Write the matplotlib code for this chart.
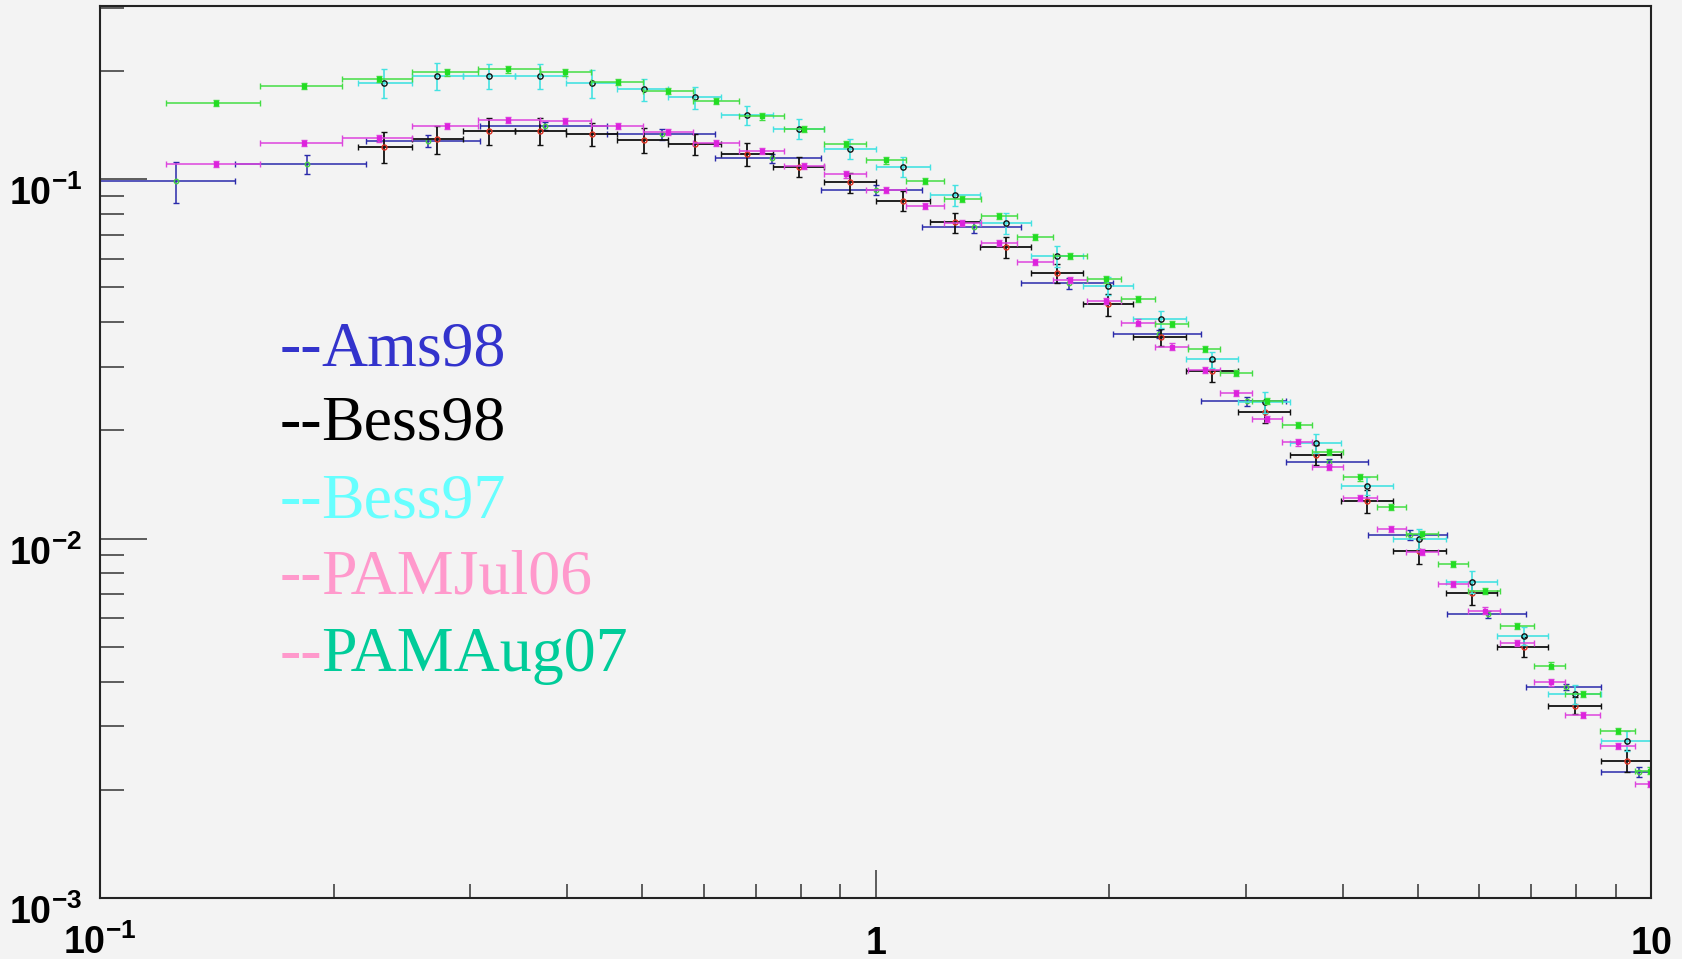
import numpy as np
import matplotlib
matplotlib.use("Agg")
import matplotlib.pyplot as plt
from matplotlib.ticker import FixedLocator, LogLocator, NullFormatter
from matplotlib.transforms import ScaledTranslation

# ---------------------------------------------------------------- data
# PAMELA energy bins (shared by both PAMELA periods)
pam_edges = [0.1218, 0.1609, 0.2049, 0.2526, 0.3068, 0.3687, 0.4299, 0.5007,
             0.5819, 0.6670, 0.7616, 0.8588, 0.9714, 1.094, 1.225, 1.367,
             1.520, 1.691, 1.874, 2.069, 2.291, 2.529, 2.777, 3.058, 3.342,
             3.654, 4.006, 4.423, 4.825, 5.311, 5.795, 6.378, 7.062, 7.736,
             8.582, 9.536, 10.56]
pam_x = [0.1412, 0.1830, 0.2288, 0.2798, 0.3355, 0.3975, 0.4658, 0.5402,
         0.6224, 0.7141, 0.8089, 0.9146, 1.031, 1.157, 1.291, 1.443, 1.604,
         1.780, 1.981, 2.180, 2.407, 2.657, 2.911, 3.191, 3.499, 3.839,
         4.210, 4.615, 5.056, 5.553, 6.101, 6.703, 7.421, 8.153, 9.045, 9.956]
pam_aug07 = [0.1624, 0.1811, 0.1897, 0.1981, 0.2019, 0.1981, 0.1858, 0.1757,
             0.1651, 0.1494, 0.1377, 0.1254, 0.1127, 0.0989, 0.0880, 0.0788,
             0.0691, 0.0611, 0.0526, 0.0465, 0.0396, 0.0337, 0.0289, 0.0241,
             0.0207, 0.0174, 0.0148, 0.01226, 0.01027, 0.00848, 0.00715,
             0.00571, 0.00443, 0.00369, 0.00291, 0.00226]
pam_aug07_err = [0.0032, 0.0036, 0.0038, 0.0040, 0.0040, 0.0040, 0.0037, 0.0035,
                 0.0033, 0.0030, 0.0028, 0.0025, 0.0023, 0.0020, 0.0018, 0.0016,
                 0.0014, 0.0012, 0.0011, 0.0009, 0.0008, 0.0007, 0.0006, 0.0005,
                 0.0004, 0.00035, 0.0003, 0.00025, 0.00021, 0.00017, 0.00014,
                 0.00011, 0.00009, 0.00007, 0.00006, 0.00005]
pam_jul06 = [0.1099, 0.1262, 0.1298, 0.1404, 0.1459, 0.1453, 0.1404, 0.1351,
             0.1262, 0.1196, 0.1087, 0.1031, 0.0932, 0.0841, 0.0753, 0.0665,
             0.0588, 0.0524, 0.0459, 0.0399, 0.0342, 0.0294, 0.0254, 0.0215,
             0.0185, 0.0158, 0.01297, 0.01065, 0.00916, 0.00747, 0.00630,
             0.00511, 0.00398, 0.00323, 0.00265, 0.00207]
pam_jul06_err = [0.0022, 0.0025, 0.0026, 0.0028, 0.0029, 0.0029, 0.0028, 0.0027,
                 0.0025, 0.0024, 0.0022, 0.0021, 0.0019, 0.0017, 0.0015, 0.0013,
                 0.0012, 0.0010, 0.0009, 0.0008, 0.0007, 0.0006, 0.0005, 0.0004,
                 0.00037, 0.00032, 0.00026, 0.00021, 0.00018, 0.00015, 0.00013,
                 0.00010, 0.00008, 0.00006, 0.00005, 0.00004]

# BESS energy bins (shared by 1997 and 1998 flights)
bess_edges = [0.2149, 0.2522, 0.2934, 0.3424, 0.3992, 0.4638, 0.5402, 0.6311,
              0.7363, 0.8568, 1.000, 1.173, 1.363, 1.586, 1.852, 2.148, 2.512,
              2.933, 3.416, 3.975, 4.636, 5.433, 6.327, 7.361, 8.600, 10.00]
bess_x = [0.2323, 0.2722, 0.3173, 0.3687, 0.4313, 0.5020, 0.5848, 0.6834,
          0.7963, 0.9265, 1.084, 1.265, 1.473, 1.714, 1.994, 2.332, 2.715,
          3.175, 3.694, 4.301, 5.014, 5.869, 6.841, 7.969, 9.299]
bess97 = [0.1850, 0.1938, 0.1938, 0.1938, 0.1850, 0.1776, 0.1688, 0.1507,
          0.1380, 0.1214, 0.1082, 0.0903, 0.0754, 0.0610, 0.0505, 0.0408,
          0.0315, 0.0240, 0.0184, 0.0140, 0.0100, 0.00758, 0.00537, 0.00369,
          0.00274]
bess97_err = [0.0170, 0.0167, 0.0155, 0.0155, 0.0166, 0.0128, 0.0118, 0.0092,
              0.0091, 0.0078, 0.0069, 0.0060, 0.0050, 0.0040, 0.0028, 0.0022,
              0.0016, 0.0016, 0.0011, 0.0008, 0.00066, 0.00052, 0.00032,
              0.00022, 0.00018]
bess98 = [0.1230, 0.1292, 0.1363, 0.1363, 0.1334, 0.1284, 0.1251, 0.1172,
          0.1082, 0.0979, 0.0870, 0.0758, 0.0648, 0.0547, 0.0448, 0.0363,
          0.0292, 0.0225, 0.0171, 0.0127, 0.00925, 0.00707, 0.00500, 0.00343,
          0.00241]
bess98_err = [0.0119, 0.0115, 0.0116, 0.0116, 0.0099, 0.0100, 0.0081, 0.0084,
              0.0069, 0.0062, 0.0056, 0.0049, 0.0044, 0.0033, 0.0032, 0.0020,
              0.0019, 0.0016, 0.0011, 0.00091, 0.00074, 0.00055, 0.00033,
              0.00019, 0.00017]

# AMS-01 (1998) energy bins
ams_edges = [0.098, 0.1495, 0.2203, 0.3092, 0.4502, 0.6205, 0.8492, 1.146,
             1.538, 2.024, 2.626, 3.376, 4.311, 5.454, 6.883, 8.608, 10.7]
ams_x = [0.1252, 0.1850, 0.2647, 0.3750, 0.5296, 0.7343, 1.001, 1.339, 1.776,
         2.320, 3.007, 3.842, 4.883, 6.150, 7.752, 9.636]
ams98 = [0.0987, 0.1099, 0.1276, 0.1404, 0.1331, 0.1142, 0.0932, 0.0734,
         0.0513, 0.0371, 0.0241, 0.0163, 0.01023, 0.00615, 0.00387, 0.00224]
ams98_err = [0.0128, 0.0069, 0.0046, 0.0038, 0.0049, 0.0033, 0.0031, 0.0024,
             0.0017, 0.0009, 0.0007, 0.00034, 0.00034, 0.00015, 0.00008,
             0.00007]

legend_names = ["Ams98", "Bess98", "Bess97", "PAMJul06", "PAMAug07"]
legend_text_colors = ["#3333cc", "#000000", "#66ffff", "#ff99cc", "#00cc99"]
legend_dash_colors = ["#3333cc", "#000000", "#66ffff", "#ff99cc", "#ff99cc"]

x_ticks = [0.1, 1.0, 10.0]
x_tick_labels = [r"$\mathbf{10^{-1}}$", r"$\mathbf{1}$", r"$\mathbf{10}$"]
y_ticks = [1e-3, 1e-2, 1e-1]
y_tick_labels = [r"$\mathbf{10^{-3}}$", r"$\mathbf{10^{-2}}$", r"$\mathbf{10^{-1}}$"]

# ---------------------------------------------------------------- style
plt.rcParams["mathtext.fontset"] = "custom"
plt.rcParams["mathtext.rm"] = "Liberation Sans"
plt.rcParams["mathtext.bf"] = "Liberation Sans:bold"
plt.rcParams["mathtext.it"] = "Liberation Sans:italic"

BG = "#f3f3f3"
W, H = 1683, 959
fig = plt.figure(figsize=(W / 100, H / 100), dpi=100, facecolor=BG)
ax = fig.add_axes([100 / W, 1 - 898 / H, 1551.5 / W, 892 / H], facecolor=BG)
ax.set_xscale("log")
ax.set_yscale("log")
ax.set_xlim(0.1, 10)
ax.set_ylim(1e-3, 0.303)


def draw_series(x, y, yerr, edges, line_color, marker, mfc, mec, ms, lw, z):
    x = np.asarray(x, dtype=float)
    lo = np.asarray(edges[:-1], dtype=float)
    hi = np.asarray(edges[1:], dtype=float)
    ax.errorbar(x, y, xerr=[x - lo, hi - x], yerr=yerr, fmt=marker,
                ecolor=line_color, elinewidth=lw, capsize=2.2, capthick=lw,
                ms=ms, mfc=mfc, mec=mec, mew=1.0, zorder=z)


draw_series(ams_x, ams98, ams98_err, ams_edges, "#2a2aaa", "o", "none", "#44cc44", 3.2, 1.1, 3)
draw_series(bess_x, bess98, bess98_err, bess_edges, "#111111", "o", "none", "#dd3322", 3.6, 1.3, 4)
draw_series(bess_x, bess97, bess97_err, bess_edges, "#44e2e2", "o", "none", "#111111", 3.8, 1.2, 5)
draw_series(pam_x, pam_jul06, pam_jul06_err, pam_edges, "#dd44dd", "s", "#dd22dd", "#dd22dd", 2.8, 1.1, 6)
draw_series(pam_x, pam_aug07, pam_aug07_err, pam_edges, "#44dd44", "s", "#22dd22", "#22dd22", 2.8, 1.1, 7)

# ---------------------------------------------------------------- axes
for side in ("left", "bottom", "top", "right"):
    ax.spines[side].set_color("#222222")
    ax.spines[side].set_linewidth(1.5)
    ax.spines[side].set_zorder(10)

ax.set_xticks(x_ticks, x_tick_labels)
ax.set_yticks(y_ticks, y_tick_labels)
ax.xaxis.set_minor_locator(LogLocator(base=10, subs=np.arange(2, 10), numticks=20))
ax.yaxis.set_minor_locator(LogLocator(base=10, subs=np.arange(2, 10), numticks=20))
ax.xaxis.set_minor_formatter(NullFormatter())
ax.yaxis.set_minor_formatter(NullFormatter())

ax.tick_params(axis="both", which="both", direction="in", color="#333333",
               width=1.1, top=False, right=False, labelsize=27)
ax.tick_params(axis="x", which="major", length=20, pad=40)
ax.tick_params(axis="x", which="minor", length=10)
ax.tick_params(axis="y", which="major", length=34, pad=13)
ax.tick_params(axis="y", which="minor", length=17)

for lab in ax.get_xticklabels():
    lab.set_verticalalignment("baseline")
shift = ScaledTranslation(0, -0.26, fig.dpi_scale_trans)
for lab in ax.get_yticklabels():
    lab.set_verticalalignment("baseline")
    lab.set_transform(lab.get_transform() + shift)

# ---------------------------------------------------------------- legend text
baselines = [365, 440, 517, 593, 671]
for name, tcol, dcol, yb in zip(legend_names, legend_text_colors,
                                legend_dash_colors, baselines):
    fig.text(280 / W, 1 - yb / H, "--", color=dcol, fontsize=46,
             family="Liberation Serif", ha="left", va="baseline")
    fig.text(321 / W, 1 - yb / H, name, color=tcol, fontsize=46,
             family="Liberation Serif", ha="left", va="baseline")

fig.savefig("out.png", dpi=100, facecolor=BG)
